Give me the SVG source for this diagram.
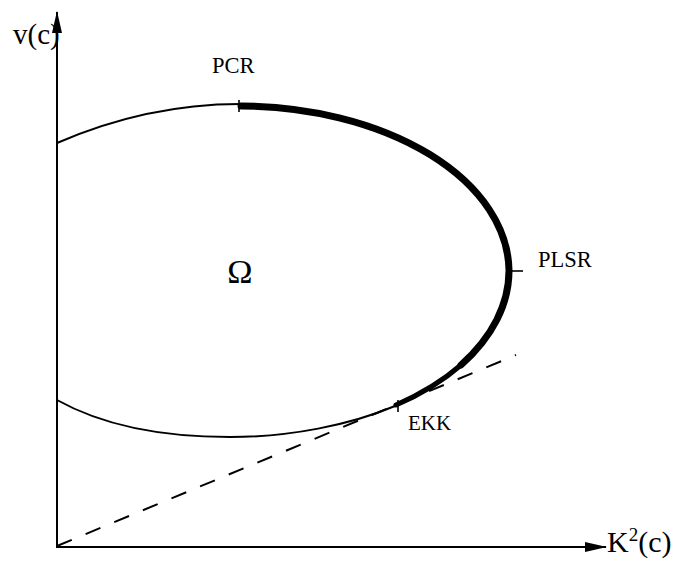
<svg xmlns="http://www.w3.org/2000/svg" width="677" height="568" viewBox="0 0 677 568">
<style>
  .ax { stroke:#000; stroke-width:2; fill:none; }
  .thin { stroke:#000; stroke-width:2; fill:none; }
  .thick { stroke:#000; fill:none; stroke-linecap:round; }
  .tick { stroke:#000; stroke-width:1.6; fill:none; }
  .dash { stroke:#000; stroke-width:2; fill:none; stroke-dasharray:16 15; }
  text { font-family:"Liberation Serif","Times New Roman",serif; fill:#000; }
</style>
<defs>
  <marker id="arr" viewBox="0 0 22 10" refX="21" refY="5" markerWidth="22" markerHeight="10" markerUnits="userSpaceOnUse" orient="auto">
    <path d="M0,0 L22,5 L0,10 Z" fill="#000"/>
  </marker>
</defs>
<rect width="677" height="568" fill="#fff"/>
<g id="connectors">
  <line id="y-axis" class="ax" x1="57" y1="547" x2="57" y2="12" marker-end="url(#arr)"/>
  <line id="x-axis" class="ax" x1="56" y1="547" x2="606" y2="547" marker-end="url(#arr)"/>
  <line id="tangent" class="dash" x1="57" y1="546" x2="516" y2="355"/>
</g>
<g id="region">
  <path class="thin" d="M57,143 C110,120 170,104 240,104"/>
  <path class="thin" d="M395,406 C350,425 290,437 230,437 C160,437 100,424 57,400"/>
  <path class="thick" stroke-width="7" d="M241,106 A270,166 0 0 1 509,270 A270,166 0 0 1 461,365"/>
  <path class="thick" stroke-width="5" d="M461,365 A270,166 0 0 1 396,405"/>
  <text x="240" y="283" font-size="34" text-anchor="middle">Ω</text>
</g>
<g id="PCR">
  <line class="tick" x1="239" y1="100" x2="239" y2="112"/>
  <text x="212" y="73" font-size="22.5">PCR</text>
</g>
<g id="PLSR">
  <line class="tick" x1="510" y1="271" x2="523" y2="271"/>
  <text x="538" y="267" font-size="22.5">PLSR</text>
</g>
<g id="EKK">
  <line class="tick" x1="398" y1="400" x2="398" y2="412"/>
  <text x="408" y="430" font-size="21">EKK</text>
</g>
<g id="labels">
  <text x="13" y="44" font-size="29">v(c)</text>
  <text x="607" y="552" font-size="30">K<tspan font-size="19" dy="-11">2</tspan><tspan dy="11">(c)</tspan></text>
</g>
</svg>
